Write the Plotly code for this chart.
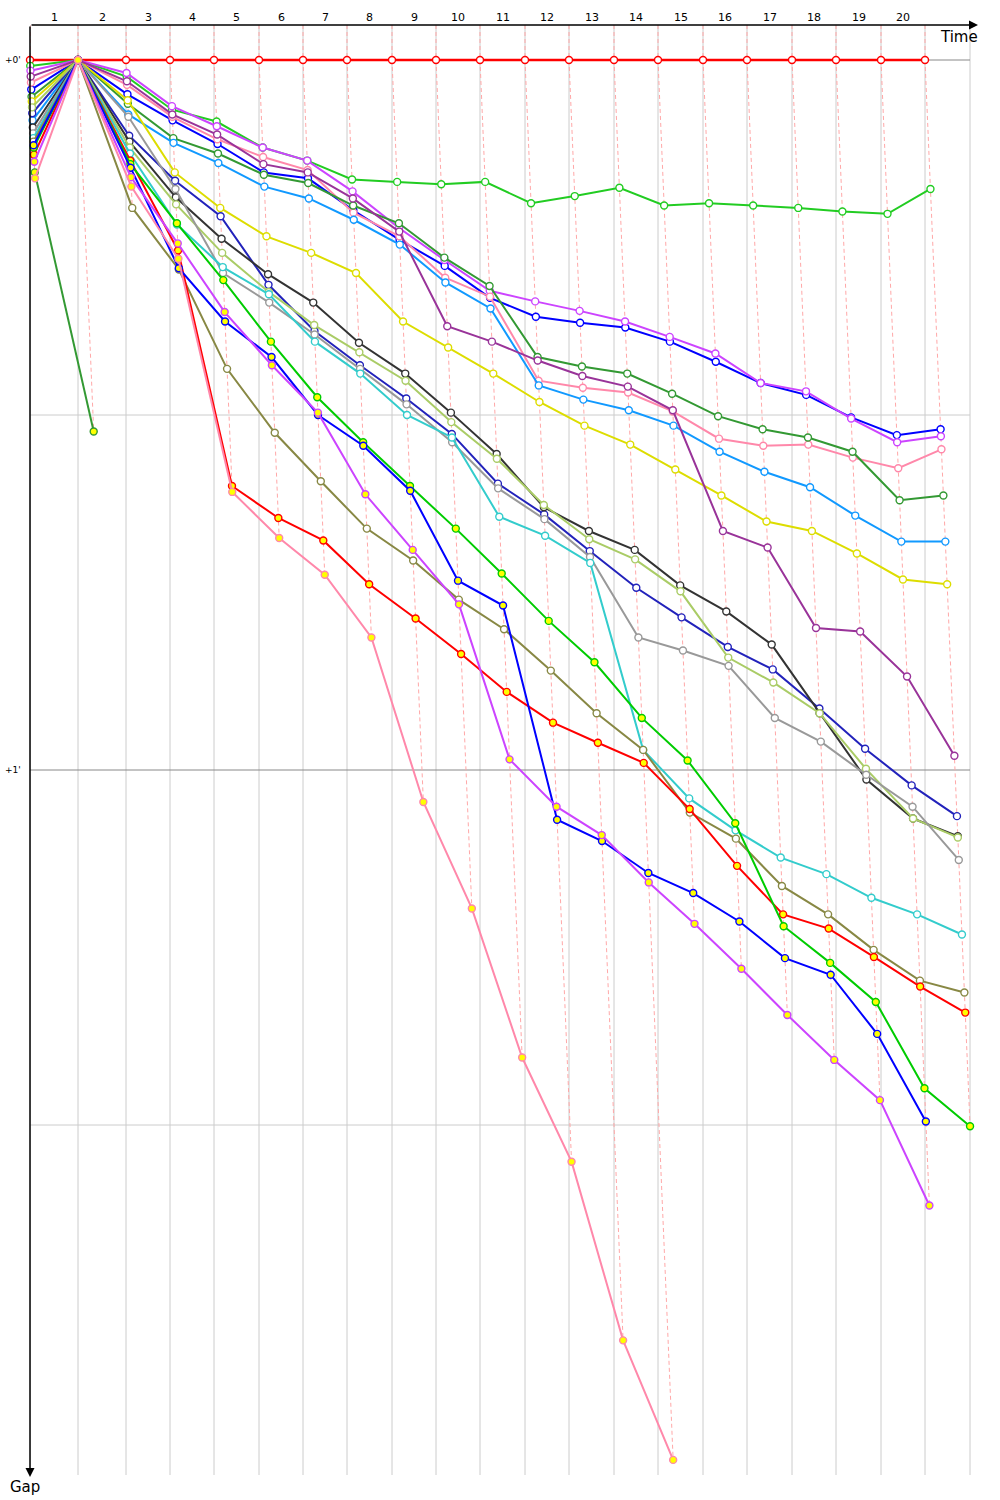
import numpy as np
import plotly.graph_objects as go

# ---------------- DATA ----------------
LAP_LABELS = [str(i) for i in range(1, 21)]
# leader lap durations (s); extra lap only for the last grid line
LEADER_LAP_TIMES = [96, 96, 88, 88, 90, 88, 88, 90, 88, 88, 90, 88, 90, 88, 90, 88, 90, 88, 90, 88]
EXTRA_LAP = 90
GAP_TICKS = [0, 60]
GAP_TICK_TEXT = ["+0'", "+1'"]
HALF_MINUTE_LINES = [30, 90]

# gap to leader (seconds) at start (index 0) and after each lap
gap_leader = [0] * 21
gap_green = [0.5, 0, 1.4, 4.2, 5.2, 7.4, 8.5, 10.1, 10.3, 10.5, 10.3, 12.1, 11.5, 10.8, 12.3, 12.1, 12.3, 12.5, 12.8, 13.0, 10.9]
gap_blue = [2.5, 0, 2.9, 5.1, 7.1, 9.5, 10.0, 12.7, 15.2, 17.4, 20.1, 21.7, 22.2, 22.6, 23.8, 25.5, 27.3, 28.3, 30.2, 31.7, 31.2]
gap_violet = [0.9, 0, 1.1, 3.9, 5.6, 7.4, 8.5, 11.1, 14.2, 16.9, 19.5, 20.4, 21.2, 22.1, 23.4, 24.8, 27.3, 28.0, 30.3, 32.3, 31.8]
gap_pink = [1.9, 0, 2.1, 4.8, 6.7, 8.2, 9.3, 12.9, 14.9, 18.4, 20.0, 27.1, 27.7, 28.1, 29.7, 32.0, 32.6, 32.5, 33.6, 34.5, 32.9]
gap_darkgreen = [3.1, 0, 3.7, 6.6, 7.9, 9.7, 10.4, 12.3, 13.8, 16.7, 19.1, 25.1, 25.9, 26.5, 28.2, 30.1, 31.2, 31.9, 33.1, 37.2, 36.8]
gap_dodger = [5.1, 0, 4.6, 7.0, 8.7, 10.7, 11.7, 13.5, 15.6, 18.8, 21.0, 27.5, 28.7, 29.6, 30.9, 33.1, 34.8, 36.1, 38.5, 40.7, 40.7]
gap_yellow = [3.5, 0, 3.4, 9.5, 12.5, 14.9, 16.3, 18.0, 22.1, 24.3, 26.5, 28.9, 30.9, 32.5, 34.6, 36.8, 39.0, 39.8, 41.7, 43.9, 44.3]
gap_purple = [1.4, 0, 1.8, 4.6, 6.3, 8.8, 9.5, 11.7, 14.5, 22.5, 23.8, 25.4, 26.7, 27.6, 29.6, 39.8, 41.2, 48.0, 48.3, 52.1, 58.8]
gap_navy = [4.5, 0, 6.4, 10.2, 13.2, 19.0, 22.9, 25.8, 28.6, 31.6, 35.8, 38.4, 41.5, 44.6, 47.1, 49.6, 51.5, 54.8, 58.2, 61.3, 63.9]
gap_black = [5.7, 0, 6.9, 11.6, 15.1, 18.1, 20.5, 23.9, 26.5, 29.8, 33.3, 37.8, 39.8, 41.4, 44.4, 46.6, 49.4, 55.2, 60.8, 64.1, 65.6]
gap_yellowgreen = [4.0, 0, 7.4, 12.2, 16.3, 19.6, 22.4, 24.7, 27.1, 30.6, 33.7, 37.6, 40.5, 42.2, 44.9, 50.5, 52.6, 55.2, 59.9, 64.1, 65.7]
gap_gray = [6.2, 0, 4.8, 10.9, 18.0, 20.5, 23.2, 26.1, 29.1, 32.3, 36.2, 38.8, 42.0, 48.8, 49.9, 51.2, 55.6, 57.6, 60.4, 63.1, 67.6]
gap_turquoise = [6.6, 0, 7.9, 13.9, 17.5, 19.8, 23.8, 26.5, 30.0, 31.9, 38.6, 40.2, 42.5, 58.3, 62.4, 65.1, 67.4, 68.8, 70.8, 72.2, 73.9]
gap_olive = [6.9, 0, 12.5, 17.7, 26.1, 31.5, 35.6, 39.6, 42.3, 45.6, 48.1, 51.6, 55.2, 58.3, 63.6, 65.8, 69.8, 72.2, 75.2, 77.8, 78.8]
gap_red2 = [8.0, 0, 8.5, 16.1, 36.0, 38.7, 40.6, 44.3, 47.2, 50.2, 53.4, 56.0, 57.7, 59.4, 63.3, 68.1, 72.2, 73.4, 75.8, 78.3, 80.5]
gap_lime2 = [7.4, 0, 8.8, 13.8, 18.6, 23.8, 28.5, 32.3, 36.0, 39.6, 43.4, 47.4, 50.9, 55.6, 59.2, 64.5, 73.2, 76.3, 79.6, 86.9, 90.1]
gap_blue2 = [7.2, 0, 9.1, 17.6, 22.1, 25.1, 30.0, 32.6, 36.4, 44.0, 46.1, 64.2, 66.0, 68.7, 70.4, 72.8, 75.9, 77.3, 82.3, 89.7]
gap_violet2 = [8.6, 0, 9.9, 15.5, 21.3, 25.8, 29.8, 36.7, 41.4, 46.0, 59.1, 63.1, 65.5, 69.5, 73.0, 76.8, 80.7, 84.5, 87.9, 96.8]
gap_pink2 = [10.0, 0, 10.7, 16.8, 36.5, 40.4, 43.5, 48.8, 62.7, 71.7, 84.3, 93.1, 108.2, 118.3]
gap_darkgreen2 = [9.5, 31.4]

SERIES_GAPS = [gap_leader, gap_green, gap_blue, gap_violet, gap_pink, gap_darkgreen, gap_dodger,
               gap_yellow, gap_purple, gap_navy, gap_black, gap_yellowgreen, gap_gray, gap_turquoise,
               gap_olive, gap_red2, gap_lime2, gap_blue2, gap_violet2, gap_darkgreen2, gap_pink2]

# ---------------- STYLE ----------------
COLORS = ["#ff0000", "#22cc22", "#0000ff", "#cc44ff", "#ff88aa", "#339933", "#1199ff",
          "#dddd00", "#993399", "#2222bb", "#333333", "#aacc66", "#999999", "#33cccc",
          "#888844", "#ff0000", "#00cc00", "#0000ff", "#cc44ff", "#339933", "#ff88aa"]
FILLS = ["white"] * 15 + ["#ffff00"] * 6
WIDTHS = [2.6] + [2] * 20

PX_TOP, PX_ZERO, PX_BOTTOM = 25, 60, 1475
PX_PER_SEC_Y = 710 / 60.0
Y_TOP = -(PX_ZERO - PX_TOP) / PX_PER_SEC_Y
Y_BOTTOM = (PX_BOTTOM - PX_ZERO) / PX_PER_SEC_Y
X_MAX = 1900

lap_end = np.concatenate([[0], np.cumsum(LEADER_LAP_TIMES)])
grid_times = np.append(lap_end, lap_end[-1] + EXTRA_LAP)

fig = go.Figure()

# dashed "same lap" lines
for n in range(len(lap_end)):
    vals = sorted(g[n] for g in SERIES_GAPS if n < len(g))
    xs = [lap_end[n]] + [lap_end[n] + v for v in vals]
    ys = [Y_TOP] + vals
    fig.add_trace(go.Scatter(x=xs, y=ys, mode="lines", hoverinfo="skip",
                             line=dict(color="#ffa8a8", width=1, dash="4px,3px"),
                             cliponaxis=False))

# series
for g, c, f, w in zip(SERIES_GAPS, COLORS, FILLS, WIDTHS):
    g = np.array(g, dtype=float)
    x = lap_end[:len(g)] + g
    fig.add_trace(go.Scatter(x=x, y=g, mode="lines+markers", cliponaxis=False,
                             line=dict(color=c, width=w),
                             marker=dict(symbol="circle", size=7, color=f,
                                         line=dict(color=c, width=1.4))))

shapes = []
for t in grid_times:
    shapes.append(dict(type="line", xref="x", yref="y", x0=t, x1=t, y0=Y_TOP, y1=Y_BOTTOM,
                       line=dict(color="#cccccc", width=1), layer="below"))
for v in GAP_TICKS:
    shapes.append(dict(type="line", xref="x", yref="y", x0=0, x1=grid_times[-1], y0=v, y1=v,
                       line=dict(color="#888888", width=1), layer="below"))
for v in HALF_MINUTE_LINES:
    shapes.append(dict(type="line", xref="x", yref="y", x0=0, x1=grid_times[-1], y0=v, y1=v,
                       line=dict(color="#cccccc", width=1), layer="below"))

ann = []
FONT = "DejaVu Sans"
for i, lab in enumerate(LAP_LABELS):
    ann.append(dict(x=(grid_times[i] + grid_times[i + 1]) / 2, y=1, xref="x", yref="paper",
                    yanchor="bottom", yshift=-1, showarrow=False, text=lab,
                    font=dict(family=FONT, size=11, color="black")))
for v, t in zip(GAP_TICKS, GAP_TICK_TEXT):
    ann.append(dict(x=0, y=v, xref="paper", yref="y", xanchor="right", xshift=-7,
                    showarrow=False, text=t, font=dict(family=FONT, size=9, color="black")))
ann.append(dict(x=1, y=1, xref="paper", yref="paper", xanchor="right", yanchor="top", yshift=-1,
                showarrow=False, text="Time", font=dict(family=FONT, size=15, color="black")))
ann.append(dict(x=0, y=0, xref="paper", yref="paper", xanchor="center", yanchor="top",
                xshift=-5, yshift=-1, showarrow=False, text="Gap",
                font=dict(family=FONT, size=15, color="black")))
# axis arrows
ann.append(dict(x=(978 - 30) / 950, y=1, xref="paper", yref="paper", ax=-948, ay=0,
                showarrow=True, arrowhead=2, arrowsize=1.2, arrowwidth=1.5,
                arrowcolor="black", text="", standoff=0))
ann.append(dict(x=0, y=-2 / 1450, xref="paper", yref="paper", ax=0, ay=-1452,
                showarrow=True, arrowhead=2, arrowsize=1.2, arrowwidth=1.5,
                arrowcolor="black", text="", standoff=0))

fig.update_layout(width=1000, height=1500, margin=dict(l=30, r=20, t=25, b=25),
                  plot_bgcolor="white", paper_bgcolor="white", showlegend=False,
                  shapes=shapes, annotations=ann,
                  xaxis=dict(range=[0, X_MAX], visible=False, fixedrange=True),
                  yaxis=dict(range=[Y_BOTTOM, Y_TOP], visible=False, fixedrange=True))

fig.write_html("out.html", config={"displayModeBar": False, "staticPlot": True},
               post_script="document.body.style.margin='0';document.body.style.overflow='hidden';")
